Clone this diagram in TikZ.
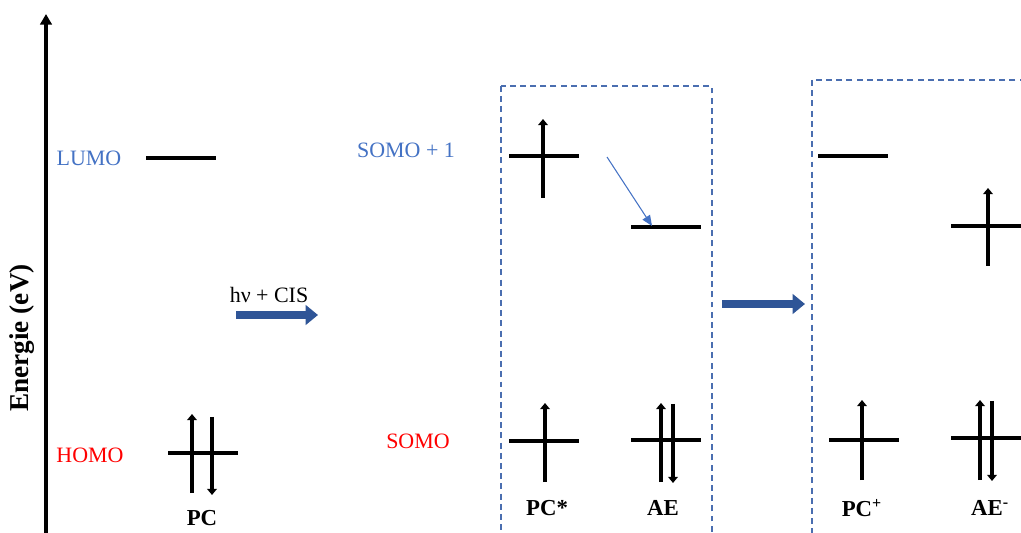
\documentclass[tikz,border=0pt]{standalone}
\usepackage{fontspec}
\setmainfont{Liberation Serif}
\usetikzlibrary{arrows.meta}
\definecolor{orbblue}{HTML}{4472C4}
\definecolor{orbred}{HTML}{FF0000}
\definecolor{arrowblue}{HTML}{2F5597}
\definecolor{boxblue}{HTML}{4A6EB0}

\begin{document}
\begin{tikzpicture}[x=0.02cm,y=-0.02cm,
    level/.style={line width=2.7pt},
    spin/.style={line width=2.2pt,-{Triangle[length=3.5pt,width=5.5pt]}},
    lbl/.style={font=\fontsize{12.5}{15}\selectfont},
    species/.style={font=\fontsize{13}{15}\selectfont\bfseries},
    react/.style={draw=arrowblue,line width=4.5pt,-{Triangle[length=7pt,width=11pt]}},
    box/.style={draw=boxblue,line width=0.9pt,dash pattern=on 3.4pt off 2.4pt}]
    \clip (0,0) rectangle (1021,533);

    % energy axis
    \coordinate (axbot) at (46,545);
    \coordinate (axtop) at (46,14);
    \draw[line width=2.2pt,-{Triangle[length=6pt,width=6.5pt]}] (axbot) -- (axtop);
    \node[rotate=90,font=\fontsize{15.5}{18}\selectfont\bfseries] (energie) at (22,338) {Energie (eV)};

    % orbital labels
    \node[lbl,text=orbblue] (lumo) at (89,158) {LUMO};
    \node[lbl,text=orbred] (homo) at (90,455) {HOMO};
    \node[lbl,text=orbblue] (somoup) at (406,150) {SOMO + 1};
    \node[lbl,text=orbred] (somo) at (418,441) {SOMO};

    % PC ground state
    \draw[level] (146,158) -- (216,158);
    \draw[level] (168,453) -- (238,453);
    \draw[spin] (192,493) -- (192,414);
    \draw[spin] (212,417) -- (212,495);
    \node[species] (pc) at (202,518) {PC};

    % excitation
    \node[lbl] (hv) at (269,295) {hν + CIS};
    \coordinate (hvstart) at (236,315);
    \coordinate (hvend) at (318,315);
    \draw[react] (hvstart) -- (hvend);

    % PC* + AE
    \draw[box] (501,86) rectangle (712,560);
    \draw[level] (509,156) -- (579,156);
    \draw[spin] (543,198) -- (543,119);
    \draw[level] (631,227) -- (701,227);
    \coordinate (pcsup) at (607,157);
    \coordinate (aeup) at (652,226);
    \draw[orbblue,line width=0.6pt,-{Triangle[length=6pt,width=5pt]}] (pcsup) -- (aeup);
    \draw[level] (509,441) -- (579,441);
    \draw[spin] (545,482) -- (545,403);
    \draw[level] (631,440) -- (701,440);
    \draw[spin] (661,482) -- (661,403);
    \draw[spin] (673,404) -- (673,483);
    \node[species] (pcstar) at (547,508) {PC*};
    \node[species] (ae) at (663,508) {AE};

    % electron transfer
    \coordinate (etstart) at (722,304);
    \coordinate (etend) at (805,304);
    \draw[react] (etstart) -- (etend);

    % PC+ + AE-
    \draw[box] (812,80) rectangle (1040,560);
    \draw[level] (818,156) -- (888,156);
    \draw[level] (951,226) -- (1021,226);
    \draw[spin] (988,266) -- (988,188);
    \draw[level] (829,440) -- (899,440);
    \draw[spin] (862,480) -- (862,400);
    \draw[level] (951,438) -- (1021,438);
    \draw[spin] (980,480) -- (980,400);
    \draw[spin] (992,401) -- (992,481);
    \node[species] (pcplus) at (862,508) {PC\textsuperscript{+}};
    \node[species] (aeminus) at (990,508) {AE\textsuperscript{-}};
\end{tikzpicture}
\end{document}
